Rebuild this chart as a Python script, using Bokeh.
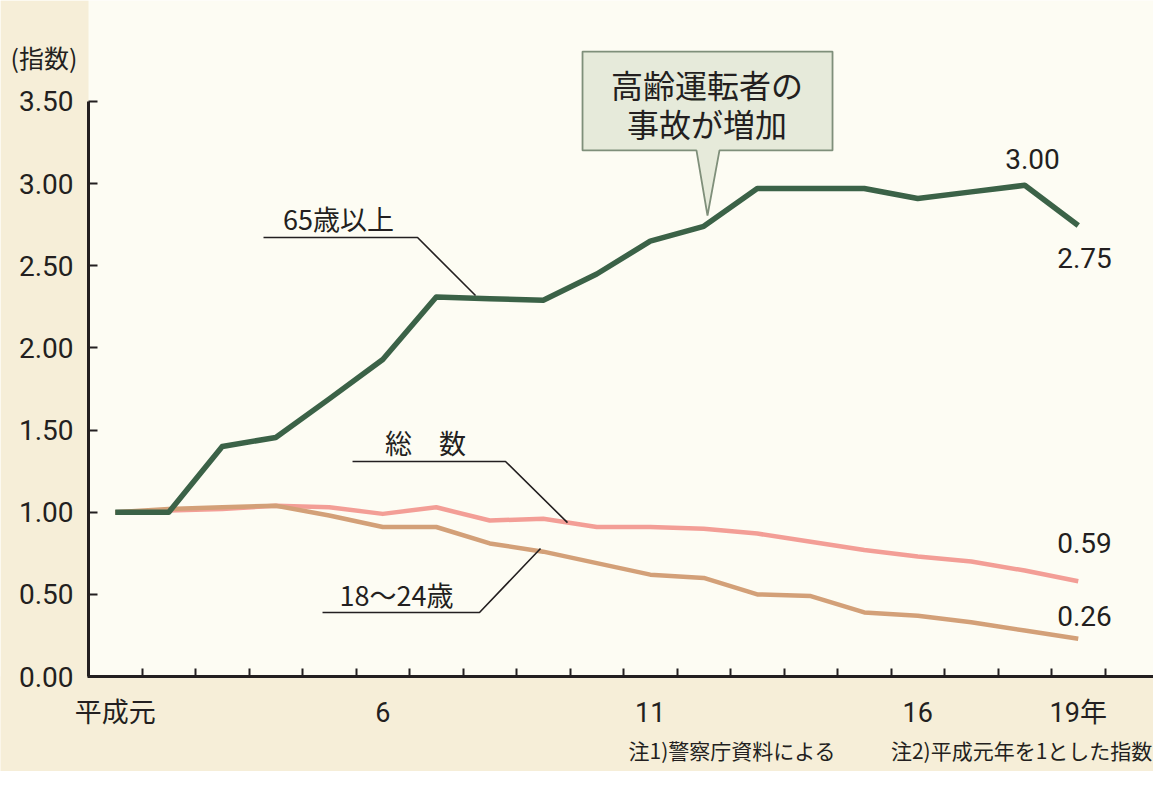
from bokeh.plotting import figure
from bokeh.models import FixedTicker, Label, BoxAnnotation
from bokeh.embed import file_html
from bokeh.resources import INLINE

# ---- data (平成元年 = 1 とした指数) ----
years = list(range(1, 20))
elderly = [1.00, 1.00, 1.40, 1.455, 1.69, 1.93, 2.31, 2.30, 2.29, 2.45,
           2.65, 2.74, 2.97, 2.97, 2.97, 2.91, 2.95, 2.99, 2.745]
total = [1.00, 1.01, 1.02, 1.04, 1.03, 0.99, 1.03, 0.95, 0.96, 0.91,
         0.91, 0.90, 0.87, 0.82, 0.77, 0.73, 0.70, 0.645, 0.58]
young = [1.00, 1.02, 1.03, 1.04, 0.98, 0.91, 0.91, 0.81, 0.76, 0.69,
         0.62, 0.60, 0.50, 0.49, 0.39, 0.37, 0.33, 0.28, 0.23]

series_names = ["65歳以上", "総　数", "18～24歳"]
end_labels = ["3.00", "2.75", "0.59", "0.26"]

x_label_ticks = [1, 6, 11, 16, 19]
x_tick_labels = ["平成元", "6", "11", "16", "19年"]
x_boundaries = [k + 0.5 for k in range(1, 20)]

y_ticks = [0, 0.5, 1.0, 1.5, 2.0, 2.5, 3.0, 3.5]
y_tick_labels = ["0.00", "0.50", "1.00", "1.50", "2.00", "2.50", "3.00", "3.50"]

callout_lines = ["高齢運転者の", "事故が増加"]
unit_label = "(指数)"
notes = ["注1)警察庁資料による", "注2)平成元年を1とした指数"]

# ---- styling ----
JP = "Noto Sans CJK JP"
NUM = "Roboto, 'Noto Sans CJK JP', sans-serif"
INK = "#231f20"
GREEN = "#3b6247"
PINK = "#f39e96"
BROWN = "#d3a078"
BEIGE = "#f6eed8"
PAPER = "#fdfcf3"

p = figure(width=1153, height=771,
           x_range=(-1.145, 20.4065), y_range=(-0.578, 4.1147),
           output_backend="svg", toolbar_location=None, min_border=0)
p.border_fill_color = BEIGE
p.background_fill_color = PAPER
p.outline_line_color = None
p.xgrid.visible = False
p.ygrid.visible = False

# beige margins outside the plotting area
p.add_layout(BoxAnnotation(right=0.5, fill_color=BEIGE, fill_alpha=1,
                           line_color=None, level="underlay"))
p.add_layout(BoxAnnotation(top=0, fill_color=BEIGE, fill_alpha=1,
                           line_color=None, level="underlay"))

# x axis
xa = p.xaxis[0]
xa.fixed_location = 0
xa.bounds = (0.472, 20.4)
xa.ticker = FixedTicker(ticks=x_label_ticks, minor_ticks=x_boundaries)
xa.major_label_overrides = dict(zip(x_label_ticks, x_tick_labels))
xa.axis_line_color = INK
xa.axis_line_width = 3
xa.major_tick_in = 0
xa.major_tick_out = 0
xa.minor_tick_in = 8
xa.minor_tick_out = 0
xa.minor_tick_line_color = INK
xa.minor_tick_line_width = 2
xa.major_label_text_font = NUM
xa.major_label_text_font_size = "27px"
xa.major_label_text_color = INK
xa.major_label_standoff = 20

# y axis
ya = p.yaxis[0]
ya.fixed_location = 0.5
ya.bounds = (0, 3.5)
ya.ticker = FixedTicker(ticks=y_ticks)
ya.major_label_overrides = dict(zip(y_ticks, y_tick_labels))
ya.axis_line_color = INK
ya.axis_line_width = 3
ya.major_tick_in = 9
ya.major_tick_out = 0
ya.major_tick_line_color = INK
ya.major_tick_line_width = 2
ya.minor_tick_line_color = None
ya.major_label_text_font = NUM
ya.major_label_text_font_size = "28px"
ya.major_label_text_color = INK
ya.major_label_standoff = 15

# series
p.line(years, total, line_color=PINK, line_width=4.5, line_join="round")
p.line(years, young, line_color=BROWN, line_width=4.5, line_join="round")
p.line(years, elderly, line_color=GREEN, line_width=5.5, line_join="round")

# leader lines for series names
p.line([3.771, 6.650, 7.734], [2.672, 2.672, 2.319], line_color=INK, line_width=1.6)
p.line([5.435, 8.294, 9.453], [1.309, 1.309, 0.937], line_color=INK, line_width=1.6)
p.line([4.874, 7.808, 8.949], [0.390, 0.390, 0.779], line_color=INK, line_width=1.6)

def lab(text, x, y, size, font=JP, align="center", baseline="middle"):
    p.add_layout(Label(x=x, y=y, text=text, text_font=font,
                       text_font_size=size, text_color=INK,
                       text_align=align, text_baseline=baseline))

lab(series_names[0], 5.173, 2.788, "27px")
lab(series_names[1], 6.799, 1.424, "27px")
lab(series_names[2], 6.257, 0.499, "27px")

# callout box with pointer
cx = [9.734, 14.407, 14.407, 12.294, 12.070, 11.864, 9.734]
cy = [3.804, 3.804, 3.202, 3.202, 2.806, 3.202, 3.202]
p.patch(cx, cy, fill_color="#e6eada", line_color="#7f8f7a", line_width=1.8)
lab(callout_lines[0], 12.06, 3.609, "32px")
lab(callout_lines[1], 12.06, 3.372, "32px")

# end values
lab(end_labels[0], 18.145, 3.153, "28px", font=NUM)
lab(end_labels[1], 19.117, 2.550, "28px", font=NUM)
lab(end_labels[2], 19.117, 0.810, "28px", font=NUM)
lab(end_labels[3], 19.117, 0.371, "28px", font=NUM)

# unit and notes
lab(unit_label, -0.958, 3.768, "25px", align="left")
lab(notes[0], 10.593, -0.445, "21px", align="left")
lab(notes[1], 20.385, -0.445, "21px", align="right")

open("out.html", "w").write(file_html(p, INLINE))
